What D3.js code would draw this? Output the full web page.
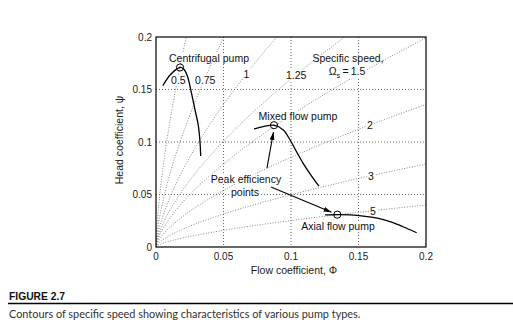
<!DOCTYPE html>
<html><head><meta charset="utf-8">
<script src="https://cdn.jsdelivr.net/npm/d3@7"></script>
<style>body{margin:0;background:#fff} svg{display:block}</style>
</head><body>
<svg id="c" width="513" height="326"></svg>
<script>
// ---------- data ----------
const xTicks = [0, 0.05, 0.1, 0.15, 0.2];
const yTicks = [0, 0.05, 0.1, 0.15, 0.2];
const xTickLabels = ["0", "0.05", "0.1", "0.15", "0.2"];
const yTickLabels = ["0", "0.05", "0.1", "0.15", "0.2"];

// specific speed contour levels  (Ωs = Φ^0.5 / ψ^0.75)
const speedLevels = [0.5, 0.75, 1, 1.25, 1.5, 2, 3, 5];
const speedLabels = ["0.5", "0.75", "1", "1.25", "1.5", "2", "3", "5"];

// pump characteristics
const centrifugalPhi = [0.0050, 0.0104, 0.0150, 0.0178, 0.0205, 0.0232, 0.0262, 0.0290, 0.0313, 0.0326, 0.0331];
const centrifugalPsi = [0.1536, 0.1638, 0.1692, 0.1710, 0.1695, 0.1630, 0.1470, 0.1300, 0.1160, 0.1000, 0.0867];
const mixedPhi = [0.0726, 0.0800, 0.0874, 0.0943, 0.0993, 0.1040, 0.1090, 0.1150, 0.1207];
const mixedPsi = [0.1124, 0.1148, 0.1160, 0.1115, 0.1020, 0.0910, 0.0797, 0.0680, 0.0580];
const axialPhi = [0.1252, 0.1343, 0.1440, 0.1536, 0.1640, 0.1733, 0.1830, 0.1931];
const axialPsi = [0.0305, 0.0308, 0.0306, 0.0295, 0.0274, 0.0241, 0.0193, 0.0136];

// peak efficiency points
const peakPhi = [0.0178, 0.0874, 0.1343];
const peakPsi = [0.1710, 0.1160, 0.0308];

// ---------- layout ----------
const svg = d3.select("#c");
const L = 156, R = 426, T = 37, B = 247;
const x = d3.scaleLinear().domain([0, 0.2]).range([L, R]);
const y = d3.scaleLinear().domain([0, 0.2]).range([B, T]);
const font = "'Liberation Sans', Arial, sans-serif";

// grid
const g = svg.append("g");
g.selectAll(".vg").data(xTicks.slice(1, -1)).enter().append("line")
  .attr("x1", d => x(d)).attr("x2", d => x(d)).attr("y1", T).attr("y2", B)
  .attr("stroke", "#444").attr("stroke-width", 0.8).attr("stroke-dasharray", "1,2");
g.selectAll(".hg").data(yTicks.slice(1, -1)).enter().append("line")
  .attr("y1", d => y(d)).attr("y2", d => y(d)).attr("x1", L).attr("x2", R)
  .attr("stroke", "#444").attr("stroke-width", 0.8).attr("stroke-dasharray", "1,2");

// contours of specific speed
svg.append("clipPath").attr("id", "pc").append("rect")
  .attr("x", L).attr("y", T).attr("width", R - L).attr("height", B - T);
const phiSamples = d3.range(0, 201).map(i => 0.2 * Math.pow(i / 200, 2));
const contourLine = d3.line().x(d => x(d[0])).y(d => y(d[1]));
svg.append("g").attr("clip-path", "url(#pc)")
  .selectAll("path").data(speedLevels).enter().append("path")
  .attr("d", w => contourLine(phiSamples.map(p => [p, Math.pow(p, 2 / 3) / Math.pow(w, 4 / 3)])))
  .attr("fill", "none").attr("stroke", "#666").attr("stroke-width", 0.8)
  .attr("stroke-dasharray", "1,1.6");

// contour labels
const labelPsi = { "0.5": 0.159, "0.75": 0.159, "1": 0.165, "1.25": 0.164, "2": 0.1165, "3": 0.068, "5": 0.0346 };
const labelShift = { "0.5": 1, "0.75": 1 };
function addLabel(txt, cx, cy, size) {
  const t = svg.append("text").attr("x", cx).attr("y", cy).attr("text-anchor", "middle")
    .attr("dominant-baseline", "central").attr("font-family", font).attr("font-size", size)
    .attr("fill", "#111").text(txt);
  const bb = t.node().getBBox();
  svg.insert("rect", "text").attr("x", bb.x - 1).attr("y", bb.y + 1).attr("width", bb.width + 2)
    .attr("height", bb.height - 2).attr("fill", "#fff");
  return t;
}
speedLevels.forEach((w, i) => {
  const lab = speedLabels[i];
  if (lab === "1.5") return;
  const ps = labelPsi[lab];
  let ph = Math.pow(ps, 1.5) * w * w;
  if (lab === "2" || lab === "3" || lab === "5") {
    ph = [0.1585, 0.1592, 0.1607][["2", "3", "5"].indexOf(lab)];
  }
  const py = Math.pow(ph, 2 / 3) / Math.pow(w, 4 / 3);
  addLabel(lab, x(ph) + (labelShift[lab] || 0), y(py), 10.5);
});

// "Specific speed, Ωs = 1.5"
const ss = svg.append("text").attr("font-family", font).attr("font-size", 10.5).attr("fill", "#111");
ss.append("tspan").attr("x", 348).attr("y", 62).attr("text-anchor", "middle").text("Specific speed,");
const bg15 = svg.insert("rect", "text");
const l2 = svg.append("text").attr("font-family", font).attr("font-size", 10.5).attr("fill", "#111")
  .attr("x", 347).attr("y", 75).attr("text-anchor", "middle");
l2.append("tspan").text("Ω");
l2.append("tspan").attr("font-size", 7.5).attr("dy", 2.5).text("s");
l2.append("tspan").attr("dy", -2.5).text("\u2009=\u20091.5");
const b2 = l2.node().getBBox();
bg15.attr("x", b2.x - 1).attr("y", b2.y + 1).attr("width", b2.width + 2).attr("height", b2.height - 2).attr("fill", "#fff");

// pump curves
const curve = d3.line().x(d => x(d[0])).y(d => y(d[1])).curve(d3.curveCatmullRom.alpha(0.5));
[[centrifugalPhi, centrifugalPsi], [mixedPhi, mixedPsi], [axialPhi, axialPsi]].forEach(([px, py]) => {
  svg.append("path").attr("d", curve(px.map((p, i) => [p, py[i]])))
    .attr("fill", "none").attr("stroke", "#000").attr("stroke-width", 1.3);
});

// peak efficiency circles
svg.selectAll(".pk").data(peakPhi).enter().append("circle")
  .attr("cx", d => x(d)).attr("cy", (d, i) => y(peakPsi[i])).attr("r", 3.6)
  .attr("fill", "none").attr("stroke", "#000").attr("stroke-width", 1);

// arrows
svg.append("defs").append("marker").attr("id", "ah").attr("viewBox", "0 0 10 6")
  .attr("refX", 10).attr("refY", 3).attr("markerWidth", 8).attr("markerHeight", 5)
  .attr("markerUnits", "userSpaceOnUse").attr("orient", "auto")
  .append("path").attr("d", "M0,0L10,3L0,6Z").attr("fill", "#000");
const arrows = [[0.0822, 0.0752, 0.0870, 0.1095], [0.0852, 0.0571, 0.1300, 0.0330]];
arrows.forEach(a => {
  svg.append("line").attr("x1", x(a[0])).attr("y1", y(a[1])).attr("x2", x(a[2])).attr("y2", y(a[3]))
    .attr("stroke", "#000").attr("stroke-width", 1.1).attr("marker-end", "url(#ah)");
});

// text annotations
function txt(s, cx, cy, size) {
  return svg.append("text").attr("x", cx).attr("y", cy).attr("text-anchor", "middle")
    .attr("dominant-baseline", "central").attr("font-family", font).attr("font-size", size)
    .attr("fill", "#111").text(s);
}
function txtBg(s, cx, cy, size) {
  const t = txt(s, cx, cy, size);
  const bb = t.node().getBBox();
  svg.insert("rect", "text").attr("x", bb.x - 1).attr("y", bb.y + 1).attr("width", bb.width + 2)
    .attr("height", bb.height - 2).attr("fill", "#fff");
}
txtBg("Centrifugal pump", 209, 58, 10.5);
txtBg("Mixed flow pump", 298, 116, 10.5);
txtBg("Peak efficiency", 246, 179, 10.5);
txtBg("points", 245, 192, 10.5);
txtBg("Axial flow pump", 338, 226, 10.5);
svg.selectAll("text").raise();

// frame
svg.append("rect").attr("x", L).attr("y", T).attr("width", R - L).attr("height", B - T)
  .attr("fill", "none").attr("stroke", "#000").attr("stroke-width", 1.2);

// axes tick labels
svg.selectAll(".xt").data(xTicks).enter().append("text")
  .attr("x", d => x(d)).attr("y", B + 9).attr("text-anchor", "middle").attr("dominant-baseline", "central")
  .attr("font-family", font).attr("font-size", 10).attr("fill", "#222").text((d, i) => xTickLabels[i]);
svg.selectAll(".yt").data(yTicks).enter().append("text")
  .attr("x", L - 4).attr("y", d => y(d)).attr("text-anchor", "end").attr("dominant-baseline", "central")
  .attr("font-family", font).attr("font-size", 10).attr("fill", "#222").text((d, i) => yTickLabels[i]);

// axis titles
svg.append("text").attr("x", 294).attr("y", 270).attr("text-anchor", "middle").attr("dominant-baseline", "central")
  .attr("font-family", font).attr("font-size", 10.5).attr("fill", "#222").text("Flow coefficient, \u03A6");
svg.append("text").attr("transform", "translate(119,140) rotate(-90)").attr("text-anchor", "middle")
  .attr("dominant-baseline", "central").attr("font-family", font).attr("font-size", 10.5).attr("fill", "#222")
  .text("Head coefficient, \u03C8");

// caption
svg.append("text").attr("x", 9).attr("y", 296).attr("dominant-baseline", "central")
  .attr("font-family", "'Liberation Sans', Arial, sans-serif").attr("font-weight", "bold")
  .attr("font-size", 10.3).attr("fill", "#111").text("FIGURE 2.7");
svg.append("line").attr("x1", 8).attr("x2", 513).attr("y1", 303.5).attr("y2", 303.5)
  .attr("stroke", "#000").attr("stroke-width", 1.3);
svg.append("text").attr("x", 9).attr("y", 313).attr("dominant-baseline", "central")
  .attr("font-family", "Lato, 'Open Sans', sans-serif").attr("font-size", 10.9).attr("fill", "#333")
  .text("Contours of specific speed showing characteristics of various pump types.");
</script>
</body></html>
